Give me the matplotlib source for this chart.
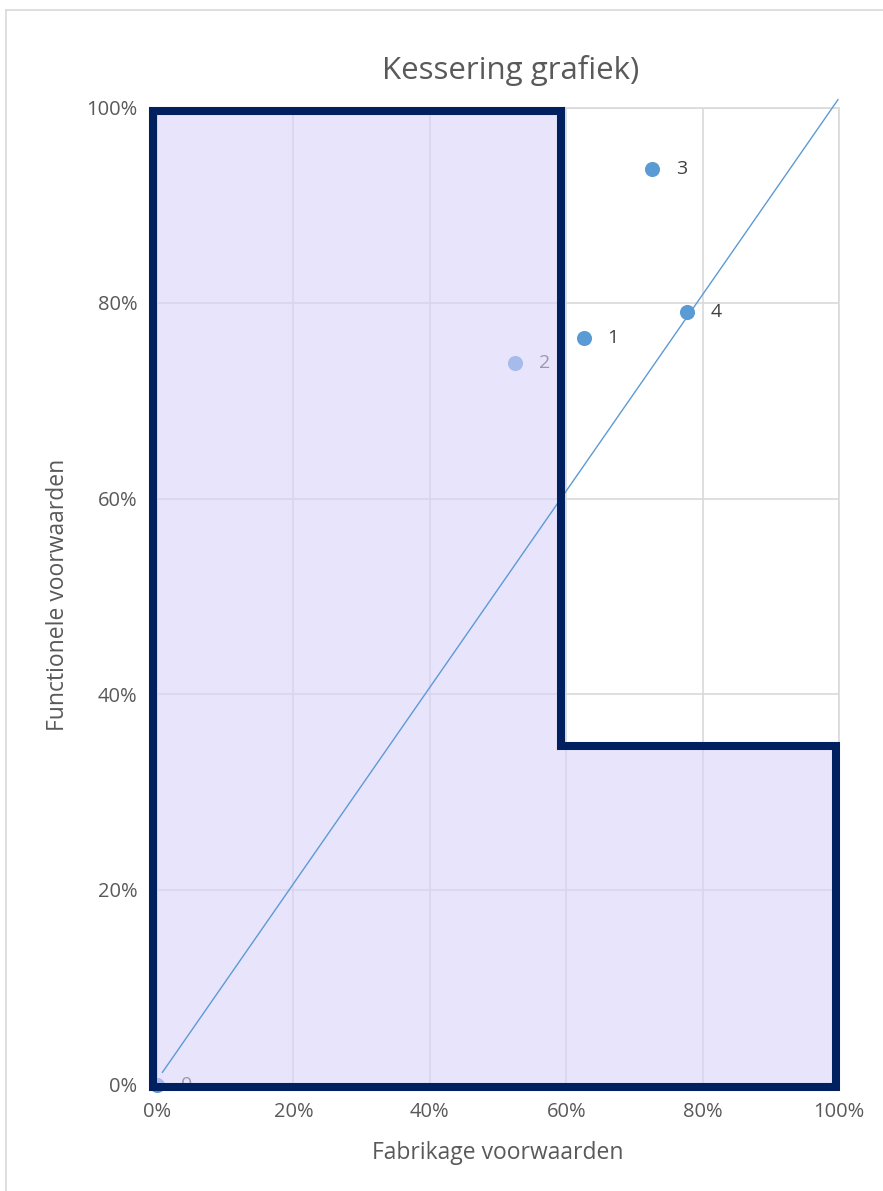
import matplotlib
matplotlib.use("Agg")
import matplotlib.pyplot as plt
from matplotlib.patches import Polygon
from matplotlib.lines import Line2D

plt.rcParams['font.family'] = ['Open Sans', 'DejaVu Sans']

# Data
point_labels = ["0", "1", "2", "3", "4"]
fabrikage = [0.0, 0.626, 0.525, 0.726, 0.777]
functioneel = [0.0, 0.764, 0.739, 0.937, 0.791]

zone_x = [-0.006, -0.006, 0.592, 0.592, 0.9956, 0.9956]
zone_y = [-0.002, 0.9964, 0.9964, 0.347, 0.347, -0.002]

trend_x = [0.008, 0.9985]
trend_y = [0.013, 1.008]

ticks = [0.0, 0.2, 0.4, 0.6, 0.8, 1.0]
tick_labels = ["0%", "20%", "40%", "60%", "80%", "100%"]

W, H = 883, 1191
fig = plt.figure(figsize=(W / 100, H / 100), dpi=100)

# outer chart frame
fig.add_artist(Line2D([6 / W, 1.0], [1 - 10 / H, 1 - 10 / H], color="#D9D9D9", lw=1.2))
fig.add_artist(Line2D([6 / W, 6 / W], [0.0, 1 - 10 / H], color="#D9D9D9", lw=1.2))

ax = fig.add_axes([157 / W, 1 - 1085 / H, (839 - 157) / W, (1085 - 107.5) / H])
ax.set_xlim(0, 1)
ax.set_ylim(0, 1)
for s in ax.spines.values():
    s.set_color("#D9D9D9")
    s.set_linewidth(1.2)
ax.set_xticks(ticks)
ax.set_yticks(ticks)
ax.set_xticklabels(tick_labels)
ax.set_yticklabels(tick_labels)
ax.tick_params(length=0, labelsize=14.5, colors="#595959")
ax.tick_params(axis="x", pad=12)
ax.tick_params(axis="y", pad=14)
ax.grid(True, color="#D9D9D9", lw=1.2, zorder=0.5)
ax.set_axisbelow(True)

# data points with labels
ax.scatter(fabrikage, functioneel, s=118, color="#5B9BD5", zorder=3, clip_on=False, linewidths=0)
for lab, x, y in zip(point_labels, fabrikage, functioneel):
    ax.annotate(lab, (x, y), xytext=(17, 0), textcoords="offset points",
                ha="left", va="center", fontsize=14, color="#404040", zorder=3)

# shaded zone over the points
ax.add_patch(Polygon(list(zip(zone_x, zone_y)), closed=True,
                     facecolor=(217 / 255, 210 / 255, 250 / 255, 0.6),
                     edgecolor="none", zorder=4, clip_on=False))

# trend line
ax.plot(trend_x, trend_y, color="#5B9BD5", lw=1.0, zorder=5, clip_on=False)

# zone border
ax.add_patch(Polygon(list(zip(zone_x, zone_y)), closed=True, facecolor="none",
                     edgecolor="#002060", lw=5.8, joinstyle="miter", zorder=6, clip_on=False))

fig.text(511 / W, 1 - 70 / H, "Kessering grafiek)", ha="center", va="center",
         fontsize=22.5, color="#595959")
fig.text(498 / W, 1 - 1153 / H, "Fabrikage voorwaarden", ha="center", va="center",
         fontsize=16.5, color="#595959")
fig.text(58 / W, 1 - 595 / H, "Functionele voorwaarden", ha="center", va="center",
         rotation=90, fontsize=16.5, color="#595959")

fig.savefig("out.png", dpi=100)
